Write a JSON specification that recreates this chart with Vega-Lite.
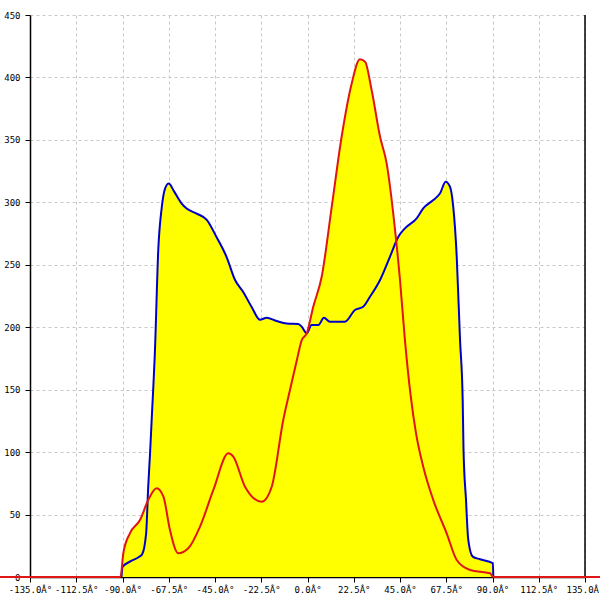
{
  "$schema": "https://vega.github.io/schema/vega-lite/v6.json",
  "width": 555,
  "height": 562,
  "autosize": {"type": "none"},
  "padding": {"left": 30, "top": 15, "right": 15, "bottom": 23},
  "background": "white",
  "config": {
    "view": {"stroke": null},
    "axis": {
      "domainColor": "black",
      "domainWidth": 1.5,
      "tickColor": "black",
      "tickSize": 5,
      "labelFont": "DejaVu Sans Mono",
      "labelFontSize": 9,
      "labelColor": "black",
      "gridColor": "#c8c8c8",
      "gridDash": [3, 3],
      "gridWidth": 1,
      "title": null
    }
  },
  "data": {
    "values": [
      {"series": "blue", "angle": -90.5, "value": 0},
      {"series": "blue", "angle": -90, "value": 8},
      {"series": "blue", "angle": -86.4, "value": 12.3},
      {"series": "blue", "angle": -82, "value": 16},
      {"series": "blue", "angle": -80.5, "value": 18},
      {"series": "blue", "angle": -78.5, "value": 35},
      {"series": "blue", "angle": -77.5, "value": 72},
      {"series": "blue", "angle": -76.6, "value": 99},
      {"series": "blue", "angle": -75.8, "value": 126},
      {"series": "blue", "angle": -74.2, "value": 182},
      {"series": "blue", "angle": -72.6, "value": 262},
      {"series": "blue", "angle": -70.9, "value": 296},
      {"series": "blue", "angle": -69.3, "value": 311},
      {"series": "blue", "angle": -67.5, "value": 315},
      {"series": "blue", "angle": -65, "value": 309},
      {"series": "blue", "angle": -61.2, "value": 299},
      {"series": "blue", "angle": -58.8, "value": 295},
      {"series": "blue", "angle": -53.9, "value": 291},
      {"series": "blue", "angle": -49, "value": 286},
      {"series": "blue", "angle": -44.2, "value": 272},
      {"series": "blue", "angle": -39.3, "value": 256},
      {"series": "blue", "angle": -35.3, "value": 238},
      {"series": "blue", "angle": -31.2, "value": 228},
      {"series": "blue", "angle": -27.1, "value": 216},
      {"series": "blue", "angle": -23.1, "value": 206},
      {"series": "blue", "angle": -19.9, "value": 207.6},
      {"series": "blue", "angle": -15, "value": 205},
      {"series": "blue", "angle": -10.1, "value": 203},
      {"series": "blue", "angle": -4.5, "value": 202.6},
      {"series": "blue", "angle": -2.8, "value": 200.4},
      {"series": "blue", "angle": -0.4, "value": 195},
      {"series": "blue", "angle": 2, "value": 201.8},
      {"series": "blue", "angle": 5.3, "value": 201.8},
      {"series": "blue", "angle": 8, "value": 207.6},
      {"series": "blue", "angle": 10.9, "value": 204.4},
      {"series": "blue", "angle": 18.2, "value": 204.4},
      {"series": "blue", "angle": 23.1, "value": 213.8},
      {"series": "blue", "angle": 27.1, "value": 216.4},
      {"series": "blue", "angle": 30.4, "value": 224.4},
      {"series": "blue", "angle": 35.3, "value": 237.8},
      {"series": "blue", "angle": 40.1, "value": 256.4},
      {"series": "blue", "angle": 44.2, "value": 272.5},
      {"series": "blue", "angle": 47.4, "value": 279.2},
      {"series": "blue", "angle": 53.1, "value": 287.2},
      {"series": "blue", "angle": 56.3, "value": 295.2},
      {"series": "blue", "angle": 61.2, "value": 301.8},
      {"series": "blue", "angle": 64.5, "value": 307.2},
      {"series": "blue", "angle": 67.2, "value": 316.5},
      {"series": "blue", "angle": 69.3, "value": 312.5},
      {"series": "blue", "angle": 70.9, "value": 296.5},
      {"series": "blue", "angle": 72.6, "value": 256.4},
      {"series": "blue", "angle": 74.2, "value": 190},
      {"series": "blue", "angle": 75.5, "value": 142},
      {"series": "blue", "angle": 75.9, "value": 102},
      {"series": "blue", "angle": 77.1, "value": 62},
      {"series": "blue", "angle": 78.2, "value": 30},
      {"series": "blue", "angle": 80.4, "value": 16.3},
      {"series": "blue", "angle": 83.9, "value": 14.2},
      {"series": "blue", "angle": 90.2, "value": 11},
      {"series": "blue", "angle": 90.4, "value": 0},
      {"series": "red", "angle": -150, "value": 0},
      {"series": "red", "angle": -91, "value": 0},
      {"series": "red", "angle": -89.6, "value": 19},
      {"series": "red", "angle": -86.4, "value": 35},
      {"series": "red", "angle": -81.5, "value": 45.6},
      {"series": "red", "angle": -77.5, "value": 61.6},
      {"series": "red", "angle": -73.4, "value": 71},
      {"series": "red", "angle": -70.1, "value": 64.3},
      {"series": "red", "angle": -66.9, "value": 37.6},
      {"series": "red", "angle": -62.9, "value": 19},
      {"series": "red", "angle": -58, "value": 23},
      {"series": "red", "angle": -52.3, "value": 40.3},
      {"series": "red", "angle": -45.8, "value": 69.7},
      {"series": "red", "angle": -38.5, "value": 99},
      {"series": "red", "angle": -36.1, "value": 96.3},
      {"series": "red", "angle": -30.4, "value": 72.3},
      {"series": "red", "angle": -22.3, "value": 60.3},
      {"series": "red", "angle": -17.4, "value": 72.3},
      {"series": "red", "angle": -11.8, "value": 125.7},
      {"series": "red", "angle": -8.5, "value": 150},
      {"series": "red", "angle": -5, "value": 175},
      {"series": "red", "angle": -2.8, "value": 189.7},
      {"series": "red", "angle": -0.4, "value": 195},
      {"series": "red", "angle": 2.8, "value": 216.4},
      {"series": "red", "angle": 6.9, "value": 240.4},
      {"series": "red", "angle": 11.8, "value": 296.5},
      {"series": "red", "angle": 16.6, "value": 352.5},
      {"series": "red", "angle": 21.5, "value": 395.2},
      {"series": "red", "angle": 25.5, "value": 414.5},
      {"series": "red", "angle": 28, "value": 412.6},
      {"series": "red", "angle": 31.2, "value": 389.9},
      {"series": "red", "angle": 35.3, "value": 352.5},
      {"series": "red", "angle": 38.5, "value": 331.2},
      {"series": "red", "angle": 42.6, "value": 277.8},
      {"series": "red", "angle": 45, "value": 237.8},
      {"series": "red", "angle": 47.4, "value": 189.7},
      {"series": "red", "angle": 50.2, "value": 145},
      {"series": "red", "angle": 52.8, "value": 115},
      {"series": "red", "angle": 56.3, "value": 88.3},
      {"series": "red", "angle": 61.2, "value": 61.6},
      {"series": "red", "angle": 67.7, "value": 35},
      {"series": "red", "angle": 72.6, "value": 13.6},
      {"series": "red", "angle": 79.1, "value": 5.6},
      {"series": "red", "angle": 88.8, "value": 3},
      {"series": "red", "angle": 90.3, "value": 0},
      {"series": "red", "angle": 150, "value": 0}
    ]
  },
  "encoding": {
    "x": {
      "field": "angle",
      "type": "quantitative",
      "scale": {"domain": [-135, 135], "nice": false, "zero": false},
      "axis": {
        "values": [-135, -112.5, -90, -67.5, -45, -22.5, 0, 22.5, 45, 67.5, 90, 112.5, 135],
        "labelExpr": "(datum.value < 0 ? '-' : '') + format(abs(datum.value), '.1f') + 'Â°'",
        "grid": true,
        "labelPadding": 3,
        "labelFlush": false,
        "labelOverlap": false
      }
    },
    "y": {
      "field": "value",
      "type": "quantitative",
      "stack": null,
      "scale": {"domain": [0, 450], "nice": false},
      "axis": {
        "values": [0, 50, 100, 150, 200, 250, 300, 350, 400, 450],
        "grid": true,
        "labelPadding": 5,
        "labelFlush": false
      }
    }
  },
  "layer": [
    {
      "mark": {"type": "area", "color": "#ffff00", "interpolate": "monotone", "clip": false},
      "encoding": {"detail": {"field": "series"}}
    },
    {
      "data": {"values": [{"edge": 135}]},
      "mark": {"type": "rule", "color": "black", "strokeWidth": 1.5},
      "encoding": {"x": {"field": "edge", "type": "quantitative"}, "y": null}
    },
    {
      "transform": [{"filter": "datum.series === 'blue'"}],
      "mark": {"type": "line", "color": "#0000cc", "strokeWidth": 2, "interpolate": "monotone", "clip": false}
    },
    {
      "transform": [{"filter": "datum.series === 'red'"}],
      "mark": {"type": "line", "color": "#e01515", "strokeWidth": 2, "interpolate": "monotone", "clip": false}
    }
  ]
}
